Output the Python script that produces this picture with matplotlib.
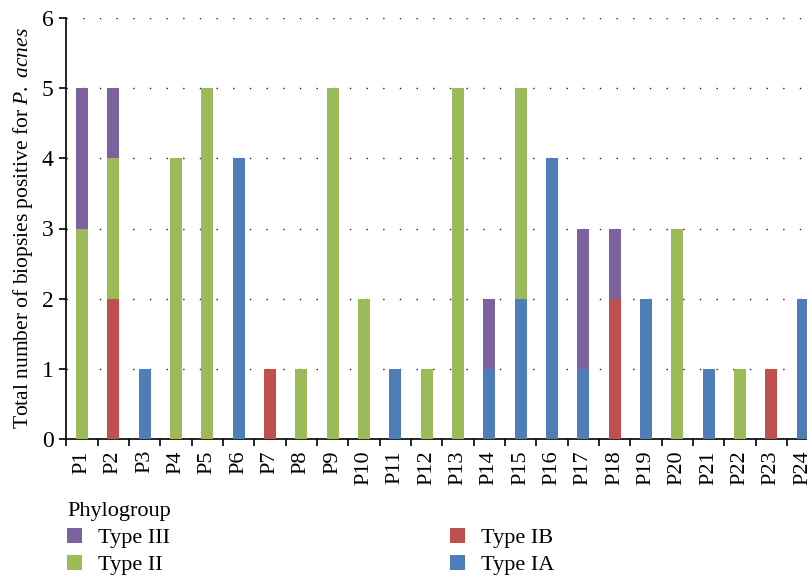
import matplotlib
matplotlib.use("Agg")
import matplotlib.pyplot as plt
import numpy as np

categories = [f"P{i}" for i in range(1, 25)]
type_ia  = [0, 0, 1, 0, 0, 4, 0, 0, 0, 0, 1, 0, 0, 1, 2, 4, 1, 0, 2, 0, 1, 0, 0, 2]
type_ib  = [0, 2, 0, 0, 0, 0, 1, 0, 0, 0, 0, 0, 0, 0, 0, 0, 0, 2, 0, 0, 0, 0, 1, 0]
type_ii  = [3, 2, 0, 4, 5, 0, 0, 1, 5, 2, 0, 1, 5, 0, 3, 0, 0, 0, 0, 3, 0, 1, 0, 0]
type_iii = [2, 1, 0, 0, 0, 0, 0, 0, 0, 0, 0, 0, 0, 1, 0, 0, 2, 1, 0, 0, 0, 0, 0, 0]
yticks = [0, 1, 2, 3, 4, 5, 6]

plt.rcParams['font.family'] = ['Liberation Serif', 'DejaVu Serif']
plt.rcParams['mathtext.fontset'] = 'custom'
plt.rcParams['mathtext.rm'] = 'Liberation Serif'
plt.rcParams['mathtext.it'] = 'Liberation Serif:italic'

W, H = 807, 578
fig = plt.figure(figsize=(W/100, H/100), dpi=100)
left, right, bottom, top = 66.3, 818.3, 439, 18
ax = fig.add_axes([left/W, 1 - bottom/H, (right-left)/W, (bottom-top)/H])

c_ia, c_ib, c_ii, c_iii = '#4f7db8', '#bf504d', '#9bbb59', '#7d62a0'
x = np.arange(len(categories))
w = 0.38
ia = np.array(type_ia); ib = np.array(type_ib); ii = np.array(type_ii); iii = np.array(type_iii)
b_ia = ax.bar(x, ia, w, color=c_ia, label='Type IA', zorder=3)
b_ib = ax.bar(x, ib, w, bottom=ia, color=c_ib, label='Type IB', zorder=3)
b_ii = ax.bar(x, ii, w, bottom=ia+ib, color=c_ii, label='Type II', zorder=3)
b_iii = ax.bar(x, iii, w, bottom=ia+ib+ii, color=c_iii, label='Type III', zorder=3)

ax.set_xlim(-0.5, len(categories) - 0.5)
ax.set_ylim(0, 6)
ax.set_yticks(yticks)
ax.set_yticklabels([str(t) for t in yticks], fontsize=17)
ax.set_xticks(x)
ax.set_xticklabels(categories, rotation=90, fontsize=16)
ax.set_xticks(np.arange(len(categories)+1) - 0.5, minor=True)
ax.tick_params(axis='x', which='major', length=0, pad=8)
ax.tick_params(axis='x', which='minor', length=5, width=1.2, direction='out')
ax.tick_params(axis='y', length=5, width=1.2, direction='out', pad=4)
ax.yaxis.grid(True, color='#222222', linestyle=(0, (1, 11)), linewidth=1.0, zorder=0)
for s in ['top', 'right']:
    ax.spines[s].set_visible(False)
ax.spines['left'].set_linewidth(1.2)
ax.spines['bottom'].set_linewidth(1.2)
ax.set_ylabel('Total number of biopsies positive for $\\it{P.\\ acnes}$', fontsize=15.5, labelpad=5)

leg = fig.legend(handles=[b_iii, b_ii, b_ib, b_ia],
                 labels=['Type III', 'Type II', 'Type IB', 'Type IA'],
                 ncol=2, loc='upper left', bbox_to_anchor=(47/W, 1 - 482/H),
                 frameon=False, title='Phylogroup', alignment='left',
                 fontsize=16, title_fontsize=16, handlelength=0.68, handleheight=0.68,
                 handletextpad=0.72, columnspacing=12.6, labelspacing=0.3)

fig.savefig('out.png', dpi=100)
